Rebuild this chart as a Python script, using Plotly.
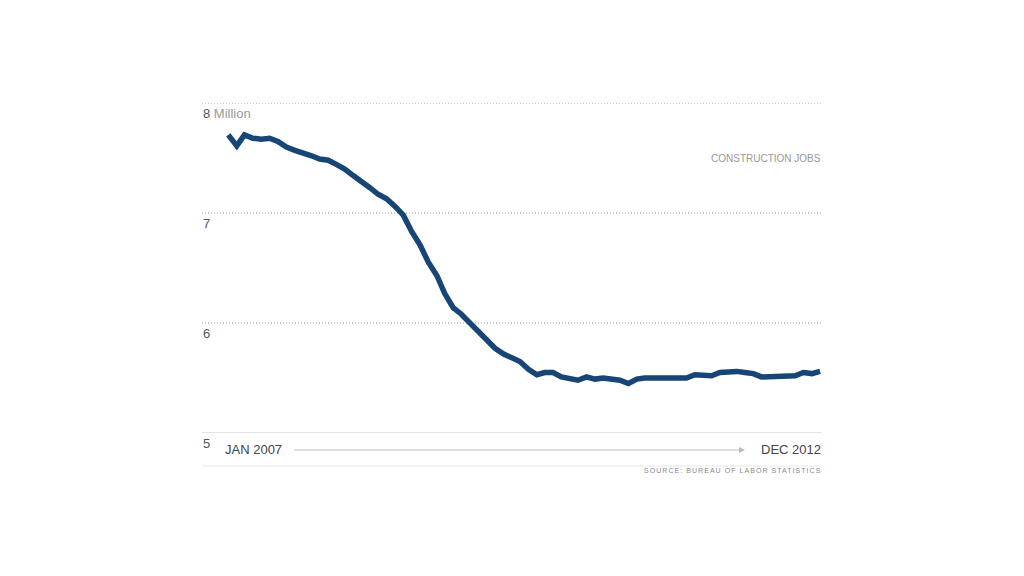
import plotly.graph_objects as go
import pandas as pd

months = pd.date_range("2007-01-01", periods=72, freq="MS")
jobs_millions = [
    7.71, 7.61, 7.71, 7.68, 7.67, 7.68, 7.65, 7.60, 7.57, 7.55, 7.52, 7.49,
    7.48, 7.44, 7.40, 7.34, 7.29, 7.23, 7.17, 7.13, 7.06, 6.98, 6.83, 6.71,
    6.55, 6.43, 6.27, 6.14, 6.08, 6.00, 5.92, 5.85, 5.77, 5.72, 5.69, 5.65,
    5.58, 5.53, 5.55, 5.55, 5.51, 5.50, 5.48, 5.51, 5.49, 5.50, 5.49, 5.48,
    5.45, 5.49, 5.50, 5.50, 5.50, 5.50, 5.51, 5.50, 5.53, 5.52, 5.52, 5.55,
    5.56, 5.56, 5.55, 5.54, 5.51, 5.51, 5.52, 5.52, 5.52, 5.55, 5.54, 5.56,
]
grid_vals = [6, 7, 8]
tick_labels = ["5", "6", "7", "8 <span style='color:#999999'>Million</span>"]
tick_vals = [5, 6, 7, 8]

fig = go.Figure()
fig.add_trace(go.Scatter(
    x=months, y=jobs_millions, mode="lines",
    line=dict(color="#174575", width=5.5), hoverinfo="skip",
))

# dotted gridlines
for v in grid_vals:
    fig.add_shape(type="line", xref="paper", yref="y", x0=0, x1=1, y0=v, y1=v,
                  line=dict(color="#999999", width=1, dash="1px,2px"), layer="below")

# tick labels as annotations below gridlines
for v, t in zip(tick_vals, tick_labels):
    fig.add_annotation(x=0, xref="paper", y=v, yref="y", text=t, showarrow=False,
                       xanchor="left", yanchor="middle", yshift=-10, xshift=-1,
                       font=dict(family="Liberation Sans, Arial", size=13, color="#555555"))

# baseline at 5
fig.add_shape(type="line", xref="paper", yref="y", x0=0, x1=1, y0=5, y1=5,
              line=dict(color="#c8c8c8", width=1))
# bottom rule
fig.add_shape(type="line", xref="paper", yref="paper", x0=0, x1=1, y0=-0.1, y1=-0.1,
              line=dict(color="#e6e6e6", width=1))
# time arrow
fig.add_annotation(x=0.8758, xref="paper", y=-0.0515, yref="paper", text="",
                   showarrow=True, ax=-452, ay=0, axref="pixel", ayref="pixel",
                   arrowhead=2, arrowsize=1.2, arrowwidth=1, arrowcolor="#bbbbbb",
                   startstandoff=0, standoff=0)

fig.add_annotation(x=0, xref="paper", y=-0.0515, yref="paper", text="JAN 2007",
                   showarrow=False, xanchor="left", yanchor="middle", xshift=21,
                   font=dict(family="Liberation Sans, Arial", size=13, color="#444444"))
fig.add_annotation(x=1, xref="paper", y=-0.0515, yref="paper", text="DEC 2012",
                   showarrow=False, xanchor="right", yanchor="middle", xshift=1,
                   font=dict(family="Liberation Sans, Arial", size=13, color="#444444"))
fig.add_annotation(x=1, xref="paper", y=(433 - 158) / 330, yref="paper", text="CONSTRUCTION JOBS",
                   showarrow=False, xanchor="right", yanchor="middle", xshift=1,
                   font=dict(family="Liberation Sans, Arial", size=10, color="#999999"))
fig.add_annotation(x=1, xref="paper", y=(433 - 470) / 330, yref="paper",
                   text="<span style='letter-spacing:1.05px'>SOURCE: BUREAU OF LABOR STATISTICS</span>",
                   showarrow=False, xanchor="right", yanchor="middle", xshift=1,
                   font=dict(family="Liberation Sans, Arial", size=7, color="#888888"))

fig.update_layout(
    width=1024, height=576,
    margin=dict(l=194, r=210, t=95, b=151),
    paper_bgcolor="white", plot_bgcolor="white",
    showlegend=False,
    xaxis=dict(range=["2006-09-27", "2012-12-08"], showgrid=False, zeroline=False,
               showticklabels=False, showline=False, ticks=""),
    yaxis=dict(range=[5, 8], showgrid=False, zeroline=False, showticklabels=False,
               showline=False, ticks=""),
)

fig.write_html("out.html")
